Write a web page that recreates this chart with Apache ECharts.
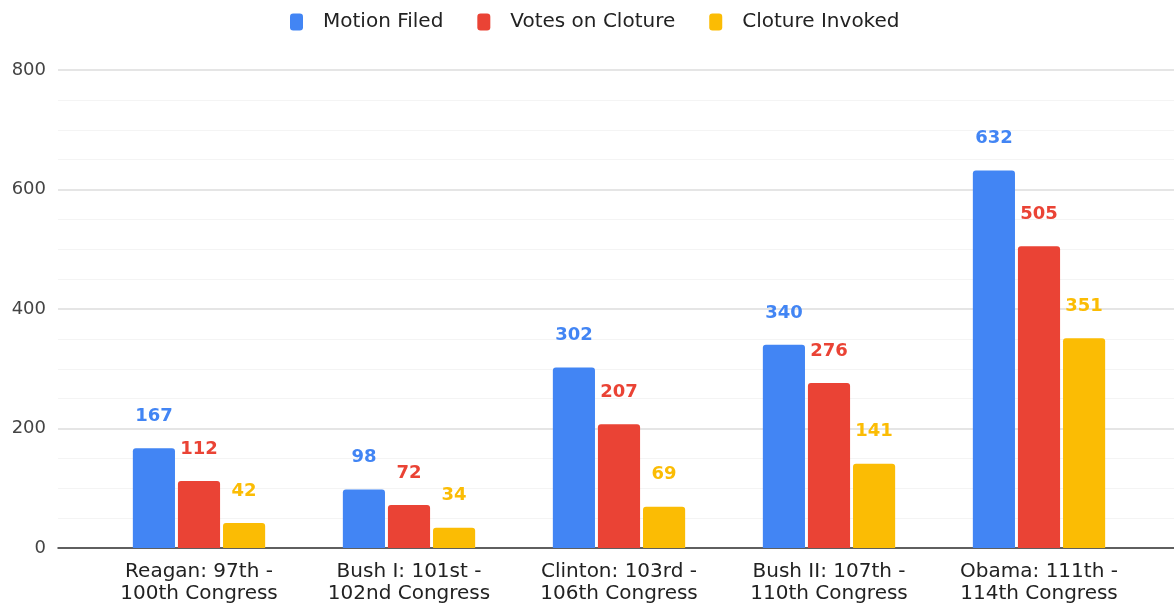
<!DOCTYPE html>
<html>
<head>
<meta charset="utf-8">
<script src="https://cdn.jsdelivr.net/npm/echarts@6/dist/echarts.min.js"></script>
<style>
html,body{margin:0;padding:0;background:#fff;}
#chart{width:1174px;height:608px;}
</style>
</head>
<body>
<div id="chart"></div>
<script>
const categories = [
  "Reagan: 97th -\n100th Congress",
  "Bush I: 101st -\n102nd Congress",
  "Clinton: 103rd -\n106th Congress",
  "Bush II: 107th -\n110th Congress",
  "Obama: 111th -\n114th Congress"
];
const seriesNames = ["Motion Filed", "Votes on Cloture", "Cloture Invoked"];
const motionFiled = [167, 98, 302, 340, 632];
const votesOnCloture = [112, 72, 207, 276, 505];
const clotureInvoked = [42, 34, 69, 141, 351];
const colors = ["#4285F4", "#EA4335", "#FBBC04"];
const yMin = 0, yMax = 800, yInterval = 200;

const FONT = "'DejaVu Sans', 'Liberation Sans', Arial, sans-serif";
const chart = echarts.init(document.getElementById('chart'));

function barSeries(name, data, color) {
  return {
    name: name,
    type: 'bar',
    xAxisIndex: 0,
    yAxisIndex: 0,
    data: data,
    barGap: '7%',
    barCategoryGap: '37%',
    itemStyle: { color: color, borderRadius: [3, 3, 0, 0] },
    label: {
      show: true,
      position: 'top',
      distance: 23,
      color: color,
      fontFamily: FONT,
      fontWeight: 'bold',
      fontSize: 18
    },
    z: 3
  };
}

chart.setOption({
  animation: false,
  backgroundColor: '#ffffff',
  color: colors,
  legend: {
    top: 7,
    left: 285,
    itemWidth: 13,
    itemHeight: 17,
    itemGap: 34,
    icon: 'roundRect',
    textStyle: { fontFamily: FONT, fontSize: 20, color: '#222', padding: [0, 0, 0, 15] },
    data: seriesNames
  },
  grid: [
    { left: 94, right: 30, top: 70, bottom: 60 },
    { left: 58, right: 0, top: 70, bottom: 60 }
  ],
  xAxis: [
    {
      type: 'category',
      gridIndex: 0,
      data: categories,
      axisLine: { show: false },
      axisTick: { show: false },
      axisLabel: {
        fontFamily: FONT,
        fontSize: 20,
        color: '#222',
        lineHeight: 22,
        margin: 13,
        interval: 0
      }
    },
    {
      type: 'value',
      gridIndex: 1,
      min: 0, max: 1,
      axisLine: { show: true, lineStyle: { color: '#333', width: 1.5 } },
      axisTick: { show: false },
      axisLabel: { show: false },
      splitLine: { show: false }
    }
  ],
  yAxis: [
    {
      type: 'value',
      gridIndex: 0,
      min: yMin, max: yMax, interval: yInterval,
      show: false
    },
    {
      type: 'value',
      gridIndex: 1,
      min: yMin, max: yMax, interval: yInterval,
      axisLine: { show: false },
      axisTick: { show: false },
      axisLabel: { fontFamily: FONT, fontSize: 18, color: '#444', margin: 12 },
      splitLine: { show: true, lineStyle: { color: '#dcdcdc', width: 1.5 } },
      minorTick: { show: false, splitNumber: 4 },
      minorSplitLine: { show: true, lineStyle: { color: '#f4f4f4', width: 1 } }
    }
  ],
  series: [
    barSeries(seriesNames[0], motionFiled, colors[0]),
    barSeries(seriesNames[1], votesOnCloture, colors[1]),
    barSeries(seriesNames[2], clotureInvoked, colors[2])
  ]
});
</script>
</body>
</html>
